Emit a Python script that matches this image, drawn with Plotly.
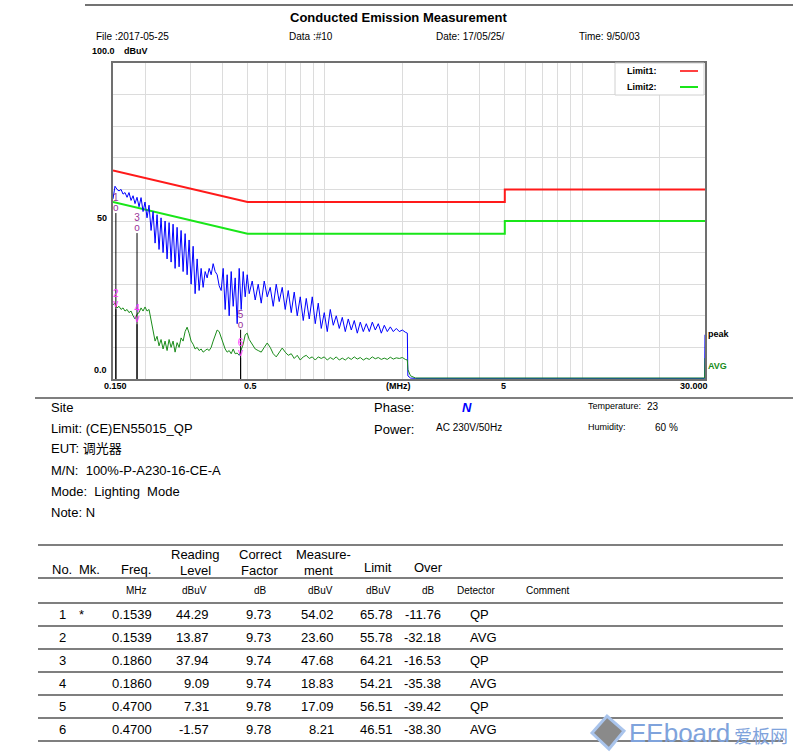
import plotly.graph_objects as go

# ---------------- data ----------------
freq_mhz = [
    0.1500, 0.1527, 0.1555, 0.1583, 0.1612, 0.1641, 0.1670, 0.1701, 0.1731, 0.1763,
    0.1795, 0.1827, 0.1860, 0.1894, 0.1928, 0.1963, 0.1998, 0.2034, 0.2071, 0.2109,
    0.2147, 0.2186, 0.2225, 0.2265, 0.2306, 0.2348, 0.2391, 0.2434, 0.2478, 0.2523,
    0.2568, 0.2615, 0.2662, 0.2710, 0.2759, 0.2809, 0.2860, 0.2912, 0.2964, 0.3018,
    0.3073, 0.3128, 0.3185, 0.3242, 0.3301, 0.3361, 0.3422, 0.3484, 0.3547, 0.3611,
    0.3676, 0.3743, 0.3810, 0.3879, 0.3949, 0.4021, 0.4093, 0.4167, 0.4243, 0.4320,
    0.4398, 0.4477, 0.4558, 0.4641, 0.4725, 0.4810, 0.4897, 0.4986, 0.5076,
    0.5214, 0.5356, 0.5502, 0.5652, 0.5806, 0.5964, 0.6126, 0.6293, 0.6464, 0.6640,
    0.6821, 0.7007, 0.7198, 0.7394, 0.7595, 0.7802, 0.8015, 0.8233, 0.8457, 0.8688,
    0.8924, 0.9167, 0.9417, 0.9673, 0.9937, 1.0208, 1.0486, 1.0771, 1.1065, 1.1366,
    1.1676, 1.1994, 1.2320, 1.2656, 1.3000, 1.3354, 1.3718, 1.4092, 1.4476, 1.4870,
    1.5275, 1.5691, 1.6118, 1.6557, 1.7008, 1.7472, 1.7947, 1.8436, 1.8938, 1.9454,
    1.9984, 2.0528, 2.0900,
    2.1000, 2.1500, 2.2500, 29.900, 30.000,
]

peak_dbuv = [
    57, 61, 60, 59.5, 60, 58.5, 59, 57.5, 59, 56.5,
    58, 55.5, 57.5, 54.5, 57.4, 53, 56, 51, 55, 47,
    53, 43, 52, 41, 51, 40, 50, 38, 49.5, 37,
    49, 35, 48, 35.5, 47, 34, 46, 33, 44, 30,
    42, 27, 38, 28, 35, 29, 34, 32, 35, 33,
    36.5, 34, 33, 29.5, 28, 35, 22, 33, 20, 34,
    23, 32, 17.5, 35, 22, 34, 26, 33, 27,
    31, 25, 30, 24, 31, 26, 29, 23, 30, 24.5,
    29, 22, 28, 21, 27.5, 20, 26, 18.5, 25.5, 19,
    26, 17.5, 24, 16, 21, 15, 22, 17, 20, 16,
    19.5, 15, 19, 15.5, 18.5, 14.5, 18, 15, 17.5, 15,
    18, 15.5, 17.5, 14.5, 17, 15, 16.5, 15, 16, 15,
    15.5, 14.8, 14.5,
    1.0, 0.3, 0.2, 0.2, 14.0,
]

avg_dbuv = [
    23.5, 24, 22.5, 23, 22, 22.5, 21.5, 22, 21, 21.5,
    20, 19, 20.5, 21, 22.5, 21.5, 22.8, 21.5, 22, 18.5,
    15, 12, 13.5, 10.5, 12.5, 9.5, 12, 9, 12.5, 10,
    12, 8.5, 11.5, 10, 13, 12, 15, 16.4, 14.5, 12,
    11, 9.5, 10, 9, 9.5, 8.5, 9, 9.5, 9, 10,
    12, 14, 15.5, 15, 13, 11, 9.5, 8.5, 9, 8,
    9.5, 8, 8.2, 7.5, 9, 11, 14, 14.5, 12.5,
    11, 9.5, 9, 8.5, 10, 11.4, 10, 8, 7, 8.5,
    9.8, 8.5, 7.5, 8, 6.5, 7.5, 6, 7, 7.5, 6.5,
    7, 6, 7, 6.5, 7, 6, 6.8, 6.2, 7, 6,
    6.6, 6, 6.8, 6.2, 7, 6.3, 6.8, 6, 6.6, 6.2,
    7, 6.4, 6.8, 6.2, 6.6, 6.2, 6.9, 6.3, 6.7, 6.5,
    6.8, 6.2, 6.0,
    3.0, 1.0, 0.3, 0.3, 6.6,
]

limit1_freq = [0.15, 0.5, 5.0, 5.0, 30.0]
limit1_dbuv = [66, 56, 56, 60, 60]
limit2_freq = [0.15, 0.5, 5.0, 5.0, 30.0]
limit2_dbuv = [56, 46, 46, 50, 50]

# table / markers
row_no = [1, 2, 3, 4, 5, 6]
row_mk = ["*", "", "", "", "", ""]
row_freq = [0.1539, 0.1539, 0.1860, 0.1860, 0.4700, 0.4700]
row_reading = [44.29, 13.87, 37.94, 9.09, 7.31, -1.57]
row_factor = [9.73, 9.73, 9.74, 9.74, 9.78, 9.78]
row_measure = [54.02, 23.60, 47.68, 18.83, 17.09, 8.21]
row_limit = [65.78, 55.78, 64.21, 54.21, 56.51, 46.51]
row_over = [-11.76, -32.18, -16.53, -35.38, -39.42, -38.30]
row_detector = ["QP", "AVG", "QP", "AVG", "QP", "AVG"]

grid_freqs = [0.2, 0.3, 0.4, 0.5, 0.6, 0.7, 0.8, 0.9, 1, 2, 3, 4, 5, 6, 7, 8, 9, 10, 20]
x_tick_vals = [0.15, 0.5, 1.9, 5, 30]
x_tick_text = ["0.150", "0.5", "(MHz)", "5", "30.000"]

# ---------------- layout helpers ----------------
W, H = 793, 752
FONT = "Liberation Sans, Arial, Noto Sans CJK SC, sans-serif"


def px(x):
    return x / W


def py(y):
    return 1 - y / H


annotations = []
shapes = []


def text(t, x, y, size=13, anchor="left", color="black", family=FONT):
    annotations.append(dict(
        text=t, x=px(x), y=py(y), xref="paper", yref="paper",
        xanchor=anchor, yanchor="middle", showarrow=False,
        font=dict(size=size, color=color, family=family)))


def hline(x0, x1, y, color="black", width=1):
    shapes.append(dict(type="line", xref="paper", yref="paper",
                       x0=px(x0), x1=px(x1), y0=py(y), y1=py(y),
                       line=dict(color=color, width=width)))


# plot area in pixels
PL, PR, PT, PB = 113, 705, 63, 379

fig = go.Figure()

fig.add_trace(go.Scatter(x=limit1_freq, y=limit1_dbuv, mode="lines",
                         line=dict(color="#ff1a1a", width=2), hoverinfo="skip"))
fig.add_trace(go.Scatter(x=limit2_freq, y=limit2_dbuv, mode="lines",
                         line=dict(color="#19e619", width=2), hoverinfo="skip"))
fig.add_trace(go.Scatter(x=freq_mhz, y=peak_dbuv, mode="lines",
                         line=dict(color="#0000ff", width=1), hoverinfo="skip"))
fig.add_trace(go.Scatter(x=freq_mhz, y=avg_dbuv, mode="lines",
                         line=dict(color="#1a8c1a", width=1), hoverinfo="skip"))

# marker drop lines
lx, ly = [], []
for f, m in zip(row_freq, row_measure):
    lx += [f, f, None]
    ly += [0, m - 1.5, None]
fig.add_trace(go.Scatter(x=lx, y=ly, mode="lines", line=dict(color="black", width=1),
                         hoverinfo="skip"))

mk_colors = ["#993399" if d == "QP" else "#ff33ff" for d in row_detector]
mk_syms = ["o" if d == "QP" else "v" for d in row_detector]
fig.add_trace(go.Scatter(x=row_freq, y=row_measure, mode="text", text=mk_syms,
                         textposition="middle center",
                         textfont=dict(size=10, color=mk_colors, family=FONT),
                         hoverinfo="skip"))
fig.add_trace(go.Scatter(x=row_freq, y=[m + 1.5 for m in row_measure], mode="text",
                         text=[str(n) for n in row_no], textposition="top center",
                         textfont=dict(size=10, color=mk_colors, family=FONT),
                         hoverinfo="skip"))

# ---------------- text ----------------
hline(85, 793, 5, color="#444", width=1.5)
text("<b>Conducted Emission Measurement</b>", 398, 18, size=13, anchor="center")
text("File :2017-05-25", 94, 37, size=10)
text("Data :#10", 287, 37, size=10)
text("Date: 17/05/25/", 434, 37, size=10)
text("Time: 9/50/03", 577, 37, size=10)
text("<b>100.0</b>", 90, 51, size=9)
text("<b>dBuV</b>", 122, 51, size=9)
text("<b>50</b>", 109, 218, size=9, anchor="right")
text("<b>0.0</b>", 109, 370, size=9, anchor="right")

# x tick labels
tick_px = {"0.150": 116, "0.5": 250, "(MHz)": 398, "5": 503, "30.000": 694}
for t in x_tick_text:
    text("<b>%s</b>" % t, tick_px[t], 386, size=9, anchor="center")

# right side labels
text("<b>peak</b>", 706, 334, size=9)
text("<b>AVG</b>", 706, 366, size=9, color="#1a8c1a")

# legend box
shapes.append(dict(type="rect", xref="paper", yref="paper", x0=px(615), x1=px(704),
                   y0=py(95), y1=py(63), line=dict(color="#d0d0d0", width=1),
                   fillcolor="white"))
text("<b>Limit1:</b>", 625, 71, size=9)
text("<b>Limit2:</b>", 625, 87, size=9)
hline(680, 698, 71, color="#ff4040", width=2)
hline(680, 698, 87, color="#19e619", width=2)

hline(35, 793, 398, color="#555", width=1.5)

# info section
text("Site", 49, 407)
text("Limit: (CE)EN55015_QP", 49, 428)
text("EUT: 调光器", 49, 449)
text("M/N:  100%-P-A230-16-CE-A", 49, 470)
text("Mode:  Lighting  Mode", 49, 491)
text("Note: N", 49, 512)
text("Phase:", 372, 408)
text("<b><i>N</i></b>", 460, 408, color="#0000ff")
text("Power:", 372, 429)
text("AC 230V/50Hz", 434, 427, size=10)
text("Temperature:", 586, 406, size=9)
text("23", 645, 406, size=10)
text("Humidity:", 586, 427, size=9)
text("60 %", 653, 427, size=10)

# table
for y in [545, 578, 603, 626, 649, 672, 695, 718, 741]:
    hline(38, 783, y, color="black", width=1.2)
text("Reading", 195, 554, anchor="center")
text("Correct", 260, 554, anchor="center")
text("Measure-", 323, 554, anchor="center")
text("No.", 50, 569)
text("Mk.", 77, 569)
text("Freq.", 136, 569, anchor="center")
text("Level", 195, 570, anchor="center")
text("Factor", 260, 570, anchor="center")
text("ment", 318, 570, anchor="center")
text("Limit", 378, 567, anchor="center")
text("Over", 428, 567, anchor="center")
for t, x in [("MHz", 136), ("dBuV", 194), ("dB", 260), ("dBuV", 320), ("dBuV", 378),
             ("dB", 428), ("Detector", 476), ("Comment", 548)]:
    text(t, x, 590, size=10, anchor="center")

for i in range(len(row_no)):
    y = 614 + 23 * i
    text(str(row_no[i]), 62, y, anchor="center")
    text(row_mk[i], 81, y, anchor="center")
    text("%.4f" % row_freq[i], 132, y, anchor="center")
    text("%.2f" % row_reading[i], 211, y, anchor="right")
    text("%.2f" % row_factor[i], 273, y, anchor="right")
    text("%.2f" % row_measure[i], 336, y, anchor="right")
    text("%.2f" % row_limit[i], 395, y, anchor="right")
    text("%.2f" % row_over[i], 443, y, anchor="right")
    text(row_detector[i], 468, y, anchor="left")

# watermark
shapes.append(dict(type="path", xref="paper", yref="paper",
                   path="M %f %f L %f %f L %f %f L %f %f Z" % (
                       px(592), py(733), px(607), py(716), px(624), py(731), px(609), py(749)),
                   fillcolor="#8a8a8a", line=dict(color="#a9c4ec", width=3)))
text("EEboard", 627, 733, size=26, color="#7fa3dc", family="Liberation Sans, Arial")
text("爱板网", 732, 735, size=18, color="#7fa3dc", family="Noto Sans CJK SC")

fig.update_layout(
    width=W, height=H, margin=dict(l=0, r=0, t=0, b=0),
    paper_bgcolor="white", plot_bgcolor="white", showlegend=False,
    annotations=annotations, shapes=shapes,
    xaxis=dict(type="log", range=[-0.8239, 1.4771], domain=[px(PL), px(PR)],
               tickvals=grid_freqs, showticklabels=False, ticks="",
               showgrid=True, gridcolor="#dcdcdc", gridwidth=1,
               showline=True, linecolor="#707070", linewidth=1.5, mirror=True,
               zeroline=False),
    yaxis=dict(range=[0, 100], domain=[py(PB), py(PT)], dtick=10,
               showticklabels=False, ticks="",
               showgrid=True, gridcolor="#dcdcdc", gridwidth=1,
               showline=True, linecolor="#707070", linewidth=1.5, mirror=True,
               zeroline=False),
)

fig.write_html("out.html")
